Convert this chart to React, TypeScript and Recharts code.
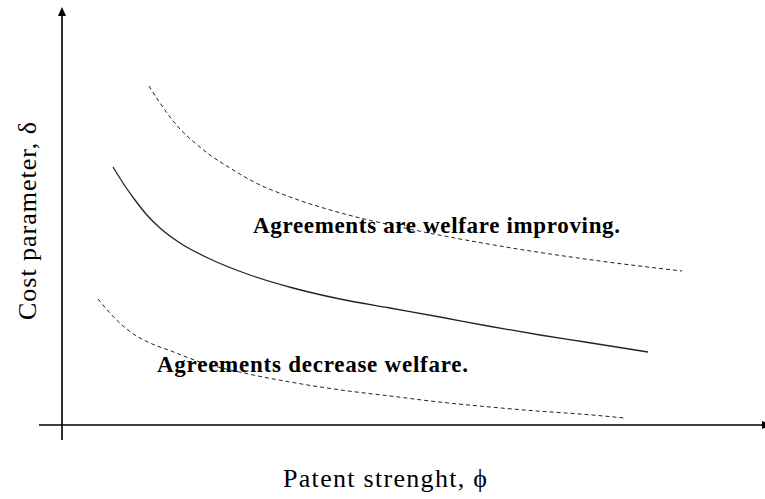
import { LineChart, Line, XAxis, YAxis, ReferenceLine, ReferenceDot } from 'recharts'

// curve points (x = patent strength, y = cost parameter)
const upperX = [8.7, 9.8, 10.8, 11.8, 13.3, 14.8, 16.8, 19.2, 22.8, 27.9, 33.8, 42.6, 52.3, 62.0]
const upperY = [33.9, 32.2, 30.8, 29.6, 28.2, 27.0, 25.7, 24.3, 22.8, 21.2, 19.8, 18.1, 16.6, 15.4]

const solidX = [5.1, 6.3, 7.3, 8.4, 9.8, 11.8, 14.8, 18.8, 23.1, 27.8, 32.8, 37.8, 42.6, 47.8, 52.3, 58.6]
const solidY = [25.8, 23.9, 22.5, 21.1, 19.7, 18.2, 16.6, 15.0, 13.7, 12.6, 11.7, 10.8, 9.9, 9.0, 8.3, 7.3]

const lowerX = [3.6, 4.8, 6.0, 7.3, 8.8, 10.9, 13.8, 18.2, 22.8, 27.9, 32.8, 37.7, 42.8, 47.5, 51.8, 56.3]
const lowerY = [12.6, 11.2, 10.0, 9.0, 8.2, 7.4, 6.3, 5.2, 4.3, 3.5, 2.9, 2.3, 1.8, 1.4, 1.1, 0.7]

const upperData = upperX.map((x, i) => ({ x, y: upperY[i] }))
const solidData = solidX.map((x, i) => ({ x, y: solidY[i] }))
const lowerData = lowerX.map((x, i) => ({ x, y: lowerY[i] }))

const serif = '"Liberation Serif", "Times New Roman", serif'

function VAxis(props: any) {
  const { x1, y1, y2 } = props
  const top = Math.min(y1, y2)
  const bottom = Math.max(y1, y2)
  return (
    <g>
      <line x1={x1} y1={top + 6} x2={x1} y2={bottom} stroke="#000" strokeWidth={1.6} />
      <path d={`M${x1},${top} L${x1 - 4},${top + 9} L${x1 + 4},${top + 9} Z`} fill="#000" />
    </g>
  )
}

function HAxis(props: any) {
  const { y1, x1, x2 } = props
  const left = Math.min(x1, x2)
  const right = Math.max(x1, x2) - 3
  return (
    <g>
      <line x1={left - 1} y1={y1} x2={right} y2={y1} stroke="#000" strokeWidth={1.6} />
      <path d={`M${right},${y1 - 4} L${right + 9},${y1} L${right},${y1 + 4} Z`} fill="#000" />
    </g>
  )
}

const textAt = (text: string, opts: { bold?: boolean; size: number; len: number; anchor?: string; rotate?: boolean }) =>
  (p: any) => (
    <text
      x={p.cx}
      y={p.cy}
      fontFamily={serif}
      fontSize={opts.size}
      fontWeight={opts.bold ? 'bold' : 'normal'}
      textAnchor={opts.anchor ?? 'start'}
      textLength={opts.len}
      lengthAdjust="spacing"
      fill="#000"
      transform={opts.rotate ? `rotate(-90 ${p.cx} ${p.cy})` : undefined}
    >
      {text}
    </text>
  )

export default function App() {
  return (
    <div style={{ position: 'absolute', left: 0, top: 0, background: '#fff' }}>
      <LineChart width={765} height={499} margin={{ top: 7, right: 0, bottom: 59, left: 40 }}>
        <XAxis type="number" dataKey="x" domain={[-2.2, 70.3]} hide allowDataOverflow />
        <YAxis type="number" dataKey="y" domain={[-1.5, 41.8]} hide allowDataOverflow />
        <ReferenceLine x={0} shape={VAxis} />
        <ReferenceLine y={0} shape={HAxis} />
        <Line data={upperData} dataKey="y" type="monotone" stroke="#222" strokeWidth={1} strokeDasharray="4 3" dot={false} isAnimationActive={false} />
        <Line data={solidData} dataKey="y" type="monotone" stroke="#222" strokeWidth={1.3} dot={false} isAnimationActive={false} />
        <Line data={lowerData} dataKey="y" type="monotone" stroke="#222" strokeWidth={1} strokeDasharray="4 3" dot={false} isAnimationActive={false} />
        <ReferenceDot x={19.1} y={19.2} r={0} ifOverflow="visible"
          shape={textAt('Agreements are welfare improving.', { bold: true, size: 23, len: 367 })} />
        <ReferenceDot x={9.5} y={5.3} r={0} ifOverflow="visible"
          shape={textAt('Agreements decrease welfare.', { bold: true, size: 23, len: 311 })} />
        <ReferenceDot x={32.3} y={-6.2} r={0} ifOverflow="visible"
          shape={textAt('Patent strenght, \u03d5', { size: 26, len: 204, anchor: 'middle' })} />
        <ReferenceDot x={-2.6} y={20.4} r={0} ifOverflow="visible"
          shape={textAt('Cost parameter, \u03b4', { size: 26, len: 198, anchor: 'middle', rotate: true })} />
      </LineChart>
    </div>
  )
}
